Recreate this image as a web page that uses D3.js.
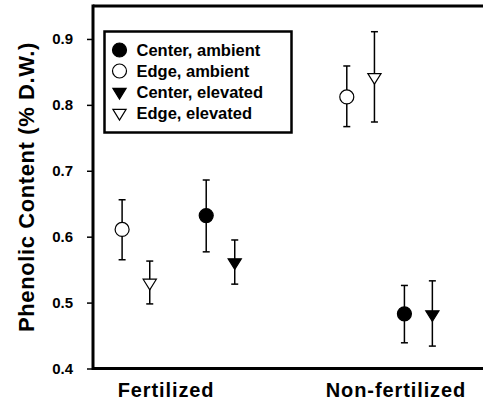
<!DOCTYPE html>
<html>
<head>
<meta charset="utf-8">
<script src="https://cdn.jsdelivr.net/npm/d3@7"></script>
<style>
  html, body { margin: 0; padding: 0; background: #fff; }
  svg { display: block; font-family: "Liberation Sans", Arial, sans-serif; }
</style>
</head>
<body>
<div id="chart"></div>
<script>
// data
const groups = ["Fertilized", "Non-fertilized"];
const seriesNames = ["Center, ambient", "Edge, ambient", "Center, elevated", "Edge, elevated"];

const centerAmbient = [0.632, 0.483];
const centerAmbientHi = [0.686, 0.526];
const centerAmbientLo = [0.577, 0.439];

const edgeAmbient = [0.611, 0.812];
const edgeAmbientHi = [0.656, 0.859];
const edgeAmbientLo = [0.565, 0.767];

const centerElevated = [0.561, 0.482];
const centerElevatedHi = [0.595, 0.533];
const centerElevatedLo = [0.528, 0.434];

const edgeElevated = [0.530, 0.842];
const edgeElevatedHi = [0.563, 0.911];
const edgeElevatedLo = [0.498, 0.774];

const yTicks = [0.4, 0.5, 0.6, 0.7, 0.8, 0.9];

// layout: slot of each series inside its group (x units)
const slots = {
    "Fertilized":     { "Edge, ambient": 1.0, "Edge, elevated": 1.95, "Center, ambient": 3.89, "Center, elevated": 4.87, label: 2.51 },
    "Non-fertilized": { "Edge, ambient": 8.72, "Edge, elevated": 9.67, "Center, ambient": 10.7, "Center, elevated": 11.66, label: 10.41 }
};

const series = [
    { name: "Center, ambient", v: centerAmbient, hi: centerAmbientHi, lo: centerAmbientLo, shape: "circle", fill: "#000" },
    { name: "Edge, ambient", v: edgeAmbient, hi: edgeAmbientHi, lo: edgeAmbientLo, shape: "circle", fill: "#fff" },
    { name: "Center, elevated", v: centerElevated, hi: centerElevatedHi, lo: centerElevatedLo, shape: "tri", fill: "#000" },
    { name: "Edge, elevated", v: edgeElevated, hi: edgeElevatedHi, lo: edgeElevatedLo, shape: "tri", fill: "#fff" }
];

const width = 483, height = 401;
const plotLeft = 93, plotTop = 6, plotBottom = 368.5;

const x = d3.scaleLinear().domain([0, 13.4]).range([plotLeft, width]);
const y = d3.scaleLinear().domain([0.4, 0.95]).range([plotBottom, plotTop]);

const svg = d3.select("#chart").append("svg")
    .attr("width", width)
    .attr("height", height);

// down-pointing triangle path
const triPath = "M-6.6,-3.6L6.6,-3.6L0,7Z";

function drawMarker(g, shape, fill) {
    if (shape == "circle") {
        g.append("circle").attr("r", 7)
            .attr("fill", fill).attr("stroke", "#000").attr("stroke-width", 1.2);
    } else {
        g.append("path").attr("d", triPath)
            .attr("fill", fill).attr("stroke", "#000").attr("stroke-width", 1.2);
    }
}

// frame: top line, left and bottom axes
svg.append("line")
    .attr("x1", plotLeft).attr("x2", width)
    .attr("y1", y(0.95)).attr("y2", y(0.95))
    .attr("stroke", "#000").attr("stroke-width", 3);

const yAxis = svg.append("g")
    .attr("transform", `translate(${plotLeft},0)`)
    .call(d3.axisLeft(y).tickValues(yTicks).tickFormat(d3.format(".1f")).tickSize(6).tickPadding(14));
yAxis.select(".domain").remove();
yAxis.selectAll(".tick line").attr("stroke-width", 1.5);
yAxis.selectAll(".tick text")
    .attr("font-size", 15).attr("font-weight", "bold")
    .attr("font-family", "Liberation Sans, Arial, sans-serif").attr("fill", "#000");

svg.append("line")
    .attr("x1", plotLeft).attr("x2", plotLeft)
    .attr("y1", y(0.95) - 1.5).attr("y2", plotBottom + 1.5)
    .attr("stroke", "#000").attr("stroke-width", 3);
svg.append("line")
    .attr("x1", plotLeft).attr("x2", width)
    .attr("y1", plotBottom).attr("y2", plotBottom)
    .attr("stroke", "#000").attr("stroke-width", 3);

// y label
svg.append("text")
    .attr("transform", `translate(34,187) rotate(-90)`)
    .attr("text-anchor", "middle")
    .attr("font-size", 22).attr("font-weight", "bold")
    .attr("letter-spacing", 0.6)
    .text("Phenolic Content (% D.W.)");

// group labels
svg.selectAll(".glabel")
    .data(groups)
    .join("text")
    .attr("class", "glabel")
    .attr("x", d => x(slots[d].label))
    .attr("y", 396.5)
    .attr("text-anchor", "middle")
    .attr("font-size", 20).attr("font-weight", "bold")
    .attr("letter-spacing", 0.9)
    .text(d => d);

// points with error bars
series.forEach(s => {
    groups.forEach((grp, i) => {
        const cx = x(slots[grp][s.name]);
        const g = svg.append("g");
        g.append("line")
            .attr("x1", cx).attr("x2", cx)
            .attr("y1", y(s.hi[i])).attr("y2", y(s.lo[i]))
            .attr("stroke", "#000").attr("stroke-width", 1.5);
        [s.hi[i], s.lo[i]].forEach(v => {
            g.append("line")
                .attr("x1", cx - 3.5).attr("x2", cx + 3.5)
                .attr("y1", y(v)).attr("y2", y(v))
                .attr("stroke", "#000").attr("stroke-width", 1.5);
        });
        const m = g.append("g").attr("transform", `translate(${cx},${y(s.v[i])})`);
        drawMarker(m, s.shape, s.fill);
    });
});

// legend
const legend = svg.append("g");
legend.append("rect")
    .attr("x", 104.5).attr("y", 31.5)
    .attr("width", 187).attr("height", 101)
    .attr("fill", "#fff").attr("stroke", "#000").attr("stroke-width", 2.5);

const rowY = d3.scalePoint().domain(seriesNames).range([50, 113]);
series.forEach(s => {
    const row = legend.append("g").attr("transform", `translate(119.5,${rowY(s.name)})`);
    drawMarker(row, s.shape, s.fill);
    row.append("text")
        .attr("x", 17).attr("dy", "0.36em")
        .attr("font-size", 16.5).attr("font-weight", "bold")
        .text(s.name);
});
</script>
</body>
</html>
